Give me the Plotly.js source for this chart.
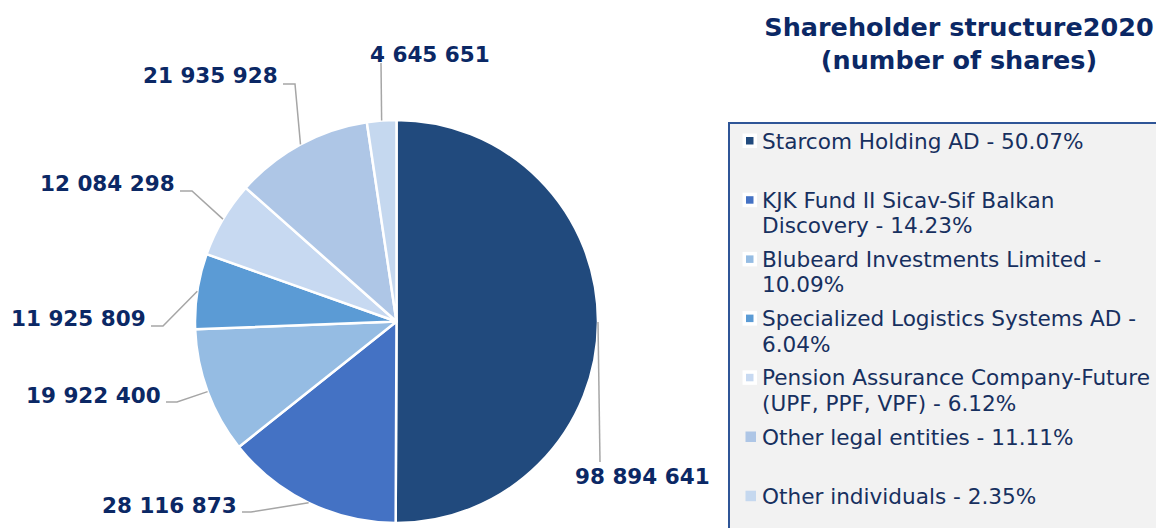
<!DOCTYPE html>
<html>
<head>
<meta charset="utf-8">
<script src="https://cdn.plot.ly/plotly-3.0.1.min.js"></script>
<style>html,body{margin:0;padding:0;background:#fff;}#chart{width:1156px;height:528px;}</style>
</head>
<body>
<div id="chart"></div>
<script>
// ---- data ----
const holders = ["Starcom Holding AD", "KJK Fund II Sicav-Sif Balkan Discovery", "Blubeard Investments Limited",
  "Specialized Logistics Systems AD", "Pension Assurance Company-Future (UPF, PPF, VPF)", "Other legal entities", "Other individuals"];
const shares = [98894641, 28116873, 19922400, 11925809, 12084298, 21935928, 4645651];
const legendTexts = ["Starcom Holding AD - 50.07%", "KJK Fund II Sicav-Sif Balkan<br>Discovery - 14.23%",
  "Blubeard Investments Limited -<br>10.09%", "Specialized Logistics Systems AD -<br>6.04%",
  "Pension Assurance Company-Future<br>(UPF, PPF, VPF) - 6.12%", "Other legal entities - 11.11%", "Other individuals - 2.35%"];
const sliceColors = ["#214A7D", "#4472C4", "#95BCE3", "#5B9BD5", "#C7D9F1", "#AEC6E6", "#C5D8EF"];
const chartTitle = "Shareholder structure2020<br>(number of shares)";

// ---- layout constants (pixels) ----
const W = 1156, H = 528;
const pie = {x0: 195, x1: 598, y0: 120, y1: 523};
const cx = (pie.x0 + pie.x1) / 2, cy = (pie.y0 + pie.y1) / 2, R = (pie.x1 - pie.x0) / 2;
// label placement per slice: text position + leader line points near the text (knee, foot)
const labelPlace = [
  {x: 642, y: 476, xa: "center", pts: [[600, 462]]},
  {x: 238, y: 505, xa: "right", pts: [[251, 512], [242, 512]]},
  {x: 162, y: 395, xa: "right", pts: [[177, 402], [166, 402]]},
  {x: 147, y: 318, xa: "right", pts: [[163, 326], [151, 326]]},
  {x: 176, y: 183, xa: "right", pts: [[192, 191], [180, 191]]},
  {x: 279, y: 76, xa: "right", pts: [[295, 84], [283, 84]]},
  {x: 430, y: 54, xa: "center", pts: [[381, 63]]}
];

const px = x => x / W;
const py = y => 1 - y / H;
const fmt = n => n.toString().replace(/\B(?=(\d{3})+(?!\d))/g, " ");

const total = shares.reduce((a, b) => a + b, 0);
const annotations = [];
const shapes = [];

// legend box
shapes.push({type: "rect", xref: "paper", yref: "paper", x0: px(729), x1: px(1175), y0: py(123), y1: py(545),
  fillcolor: "#F2F2F2", line: {color: "#2F5597", width: 2}, layer: "below"});

let cum = 0;
shares.forEach((v, i) => {
  const th = 2 * Math.PI * (cum + v / 2) / total;
  cum += v;
  const ax = cx + R * Math.sin(th), ay = cy - R * Math.cos(th);
  const lp = labelPlace[i];
  let path = "M" + px(ax) + "," + py(ay);
  lp.pts.forEach(p => { path += " L" + px(p[0]) + "," + py(p[1]); });
  shapes.push({type: "path", xref: "paper", yref: "paper", path: path, line: {color: "#A6A6A6", width: 1.5}});
  annotations.push({xref: "paper", yref: "paper", x: px(lp.x), y: py(lp.y), xanchor: lp.xa, yanchor: "middle",
    text: "<b>" + fmt(v) + "</b>", showarrow: false, borderpad: 0,
    font: {family: "DejaVu Sans", size: 21.5, color: "#0B2865"}});
});

// legend entries
const legTop = 141, legStep = 59.2, legLine = 25.5;
legendTexts.forEach((t, i) => {
  const yc = legTop + i * legStep;
  t.split("<br>").forEach((line, k) => {
    annotations.push({xref: "paper", yref: "paper", x: px(761), y: py(yc + k * legLine), xanchor: "left", yanchor: "middle",
      text: line, showarrow: false, borderpad: 0, font: {family: "DejaVu Sans", size: 21.6, color: "#17305F"}});
  });
  if (i < 5) {
    shapes.push({type: "rect", xref: "paper", yref: "paper", x0: px(742.5), x1: px(757), y0: py(yc - 7.5), y1: py(yc + 7),
      fillcolor: "#FFFFFF", line: {width: 0}});
    shapes.push({type: "rect", xref: "paper", yref: "paper", x0: px(746), x1: px(753.5), y0: py(yc - 4), y1: py(yc + 3.5),
      fillcolor: sliceColors[i], line: {width: 0}});
  } else {
    shapes.push({type: "rect", xref: "paper", yref: "paper", x0: px(745.5), x1: px(756), y0: py(yc - 5.5), y1: py(yc + 5),
      fillcolor: sliceColors[i], line: {width: 0}});
  }
});

const data = [{
  type: "pie", labels: holders, values: shares, sort: false, direction: "clockwise", rotation: 0,
  marker: {colors: sliceColors, line: {color: "#FFFFFF", width: 2.5}},
  textinfo: "none", hoverinfo: "label+value+percent", showlegend: false,
  domain: {x: [px(pie.x0), px(pie.x1)], y: [py(pie.y1), py(pie.y0)]}
}];

const layout = {
  width: W, height: H, margin: {l: 0, r: 0, t: 0, b: 0},
  paper_bgcolor: "#FFFFFF", showlegend: false,
  title: {text: "<b>" + chartTitle + "</b>", x: px(959), xanchor: "center", y: py(36), yanchor: "middle", yref: "paper",
    font: {family: "DejaVu Sans", size: 25.5, color: "#0B2865"}},
  shapes: shapes, annotations: annotations
};

Plotly.newPlot("chart", data, layout, {displayModeBar: false, staticPlot: true});
</script>
</body>
</html>
